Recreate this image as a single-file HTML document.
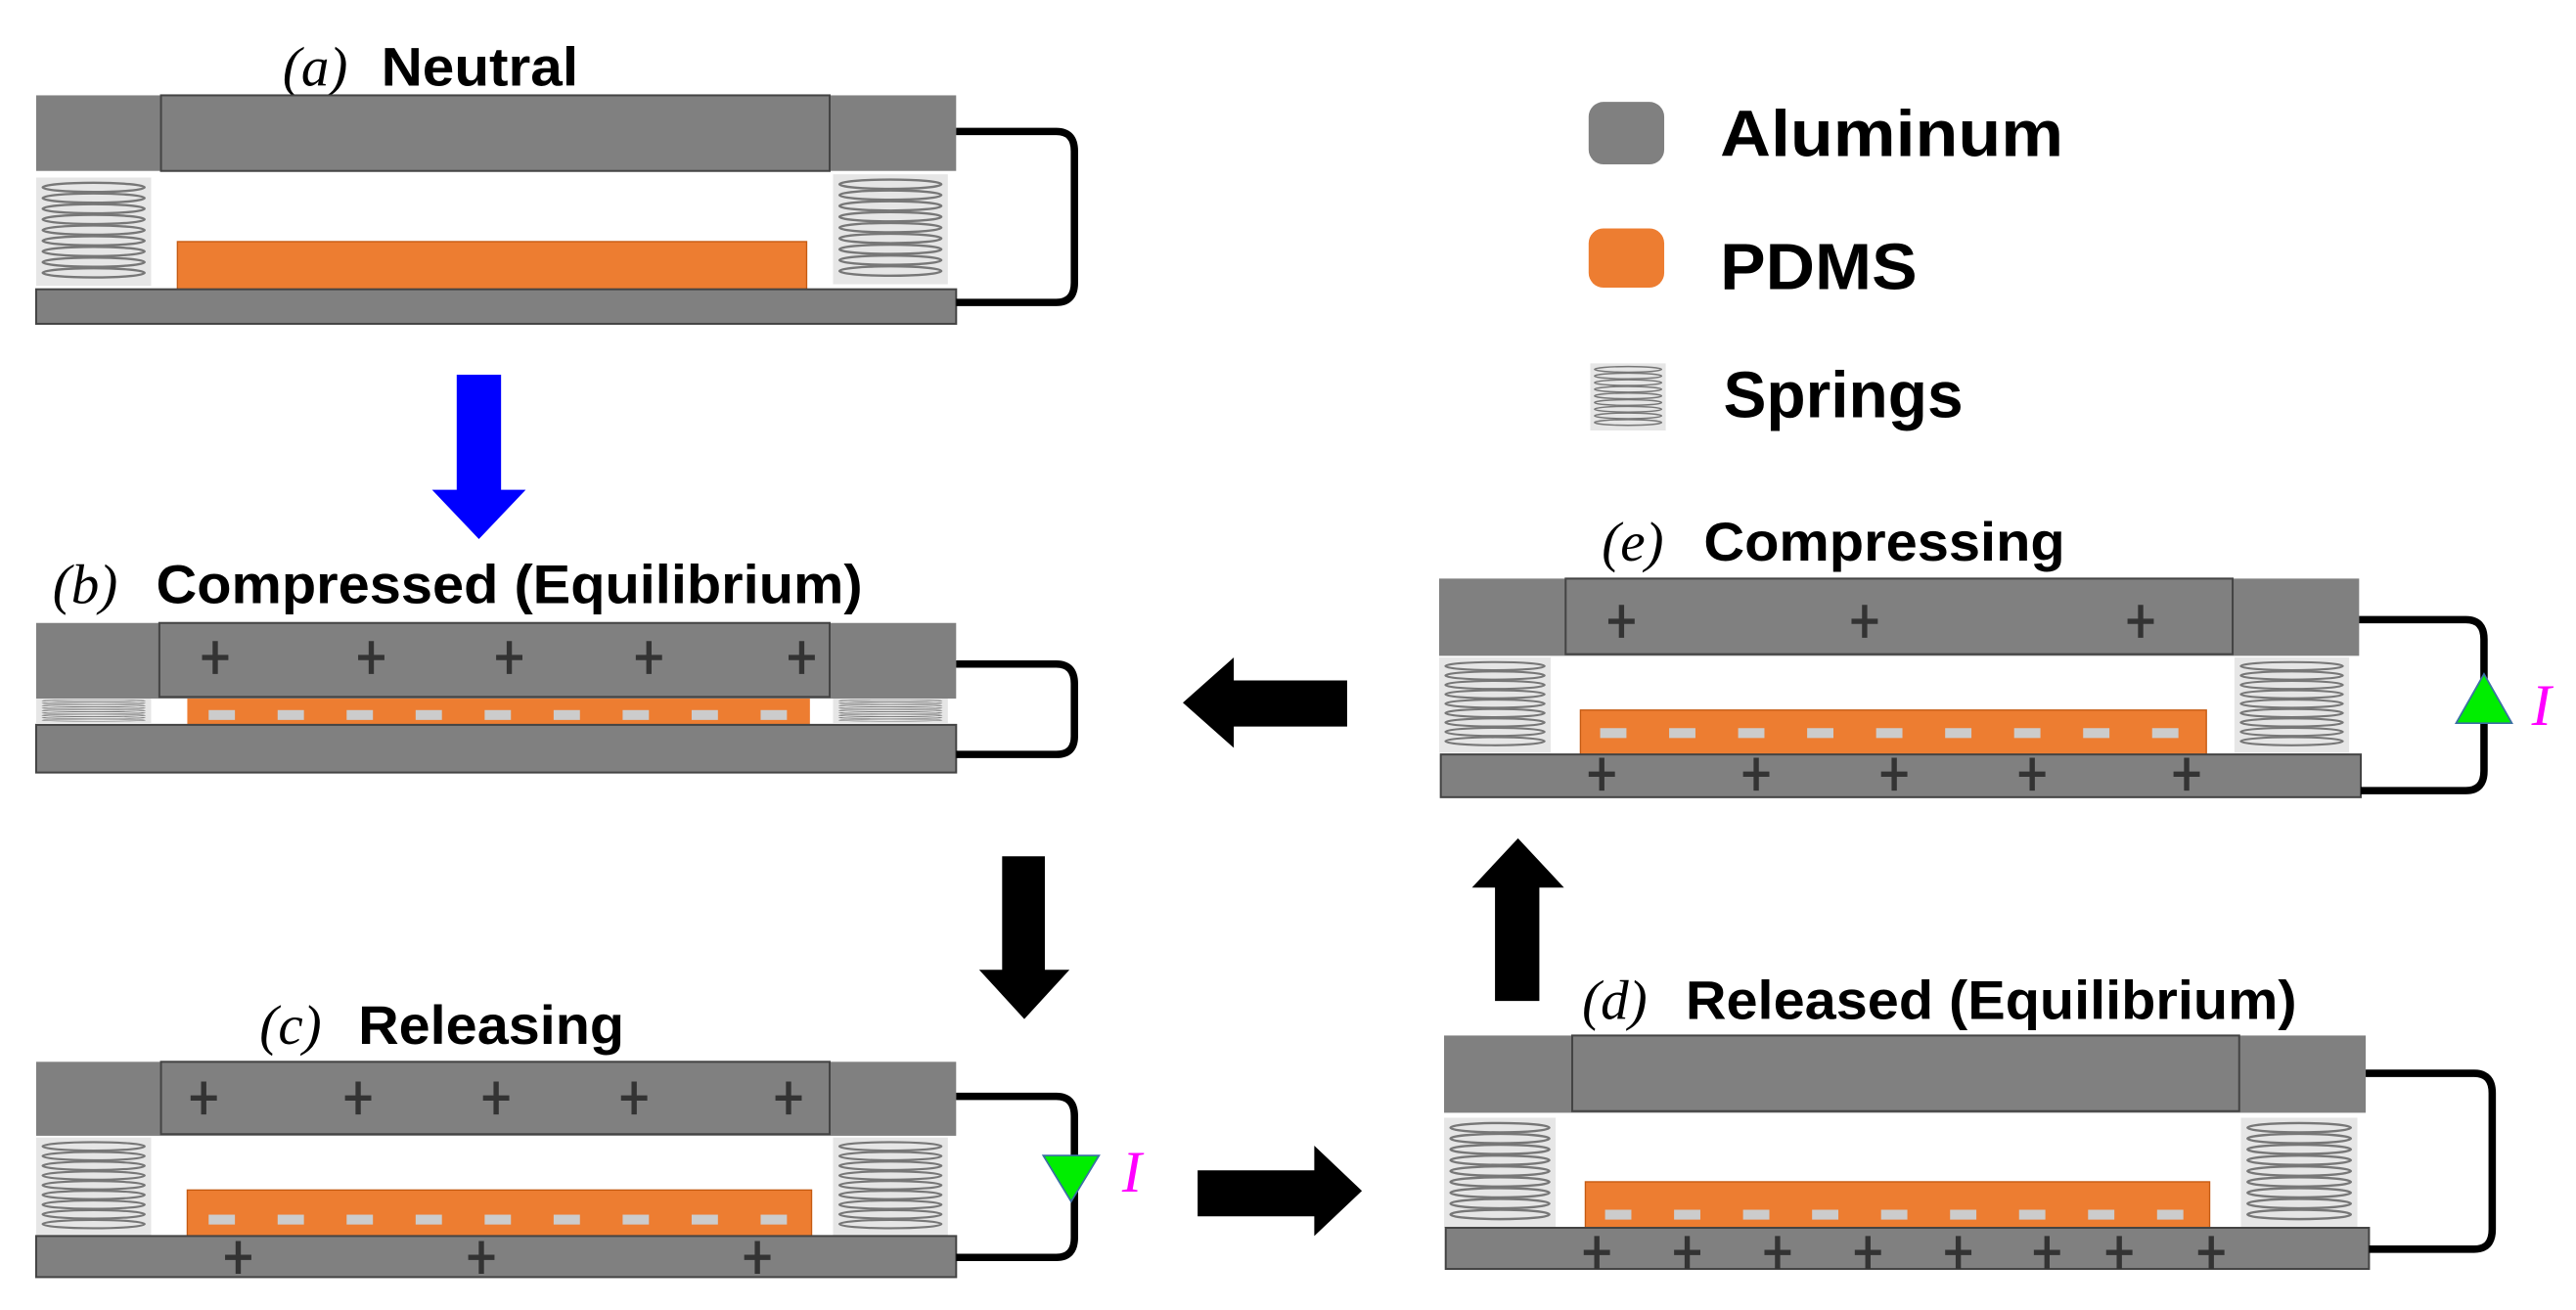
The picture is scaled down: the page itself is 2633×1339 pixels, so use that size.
<!DOCTYPE html>
<html><head><meta charset="utf-8"><style>
html,body{margin:0;padding:0;background:#fff;}
svg{display:block;}
.t{font-family:"Liberation Sans",sans-serif;font-weight:bold;font-size:33px;fill:#000;}
.i{font-family:"Liberation Serif",serif;font-style:italic;font-size:34px;fill:#000;}
.lg{font-family:"Liberation Sans",sans-serif;font-weight:bold;font-size:40px;fill:#000;}
.al{fill:#808080;}
.pl{fill:#808080;stroke:#444;stroke-width:1.2;}
.pd{fill:#ED7D31;stroke:#C55A11;stroke-width:0.8;}
.w{fill:none;stroke:#000;stroke-width:4.5;}
</style></head><body>
<svg width="2633" height="1339" viewBox="0 0 1568 797" preserveAspectRatio="none" xmlns="http://www.w3.org/2000/svg">
<defs>
<symbol id="sp" viewBox="0 0 70 66" preserveAspectRatio="none">
<rect x="0" y="0" width="70" height="66" fill="#e6e6e6"/>
<g fill="none" stroke="#777" stroke-width="1.4">
<ellipse cx="35" cy="6" rx="31" ry="2.8"/><ellipse cx="35" cy="12.5" rx="31" ry="2.8"/>
<ellipse cx="35" cy="19" rx="31" ry="2.8"/><ellipse cx="35" cy="25.5" rx="31" ry="2.8"/>
<ellipse cx="35" cy="32" rx="31" ry="2.8"/><ellipse cx="35" cy="38.5" rx="31" ry="2.8"/>
<ellipse cx="35" cy="45" rx="31" ry="2.8"/><ellipse cx="35" cy="51.5" rx="31" ry="2.8"/>
<ellipse cx="35" cy="58" rx="31" ry="2.8"/>
</g></symbol>
<g id="p"><path d="M-8 0H8M0 -10V10" stroke="#333" stroke-width="3.2"/></g>
<rect id="m" x="-8" y="-3" width="16" height="6" fill="#ccc"/>
</defs>

<!-- Panel a -->
<text x="172" y="52" class="i">(a)</text><text x="232" y="52" class="t" textLength="120" lengthAdjust="spacingAndGlyphs">Neutral</text>
<rect class="al" x="22" y="58" width="560" height="46"/>
<rect class="pl" x="98" y="58" width="407" height="46"/>
<use href="#sp" x="22" y="108" width="70" height="66"/>
<use href="#sp" x="507" y="106" width="70" height="67"/>
<rect class="pd" x="108" y="147" width="383" height="29"/>
<rect class="pl" x="22" y="176" width="560" height="21"/>
<path class="w" d="M582 80H643Q654 80 654 92V172Q654 184 643 184H582"/>

<path d="M278 228H305V298H320L291.5 328L263 298H278Z" fill="#0000FF"/>

<!-- Panel b -->
<text x="32" y="367" class="i">(b)</text><text x="95" y="367" class="t" textLength="430" lengthAdjust="spacingAndGlyphs">Compressed (Equilibrium)</text>
<rect class="al" x="22" y="379" width="560" height="46"/>
<rect class="pl" x="97" y="379" width="408" height="45"/>
<use href="#p" x="131" y="400"/><use href="#p" x="226" y="400"/><use href="#p" x="310" y="400"/><use href="#p" x="395" y="400"/><use href="#p" x="488" y="400"/>
<use href="#sp" x="22" y="425" width="70" height="15"/>
<use href="#sp" x="507" y="425" width="70" height="15"/>
<rect class="pd" x="114" y="425" width="379" height="16" style="stroke:none"/>
<g transform="translate(0,435)"><use href="#m" x="135"/><use href="#m" x="177"/><use href="#m" x="219"/><use href="#m" x="261"/><use href="#m" x="303"/><use href="#m" x="345"/><use href="#m" x="387"/><use href="#m" x="429"/><use href="#m" x="471"/></g>
<rect class="pl" x="22" y="441" width="560" height="29"/>
<path class="w" d="M582 404H643Q654 404 654 416V448Q654 459 643 459H582"/>

<path d="M610 521H636V590H651L623.5 620L596 590H610Z" fill="#000"/>

<!-- Panel c -->
<text x="158" y="635" class="i">(c)</text><text x="218" y="635" class="t" textLength="162" lengthAdjust="spacingAndGlyphs">Releasing</text>
<rect class="al" x="22" y="646" width="560" height="45"/>
<rect class="pl" x="98" y="646" width="407" height="44"/>
<use href="#p" x="124" y="668"/><use href="#p" x="218" y="668"/><use href="#p" x="302" y="668"/><use href="#p" x="386" y="668"/><use href="#p" x="480" y="668"/>
<use href="#sp" x="22" y="692" width="70" height="60"/>
<use href="#sp" x="507" y="692" width="70" height="60"/>
<rect class="pd" x="114" y="724" width="380" height="28"/>
<g transform="translate(0,742)"><use href="#m" x="135"/><use href="#m" x="177"/><use href="#m" x="219"/><use href="#m" x="261"/><use href="#m" x="303"/><use href="#m" x="345"/><use href="#m" x="387"/><use href="#m" x="429"/><use href="#m" x="471"/></g>
<rect class="pl" x="22" y="752" width="560" height="25"/>
<use href="#p" x="145" y="765"/><use href="#p" x="293" y="765"/><use href="#p" x="461" y="765"/>
<path class="w" d="M582 667H643Q654 667 654 679V753Q654 765 643 765H582"/>
<path d="M635 703H669L652 731Z" fill="#00EE00" stroke="#3a6ea5" stroke-width="1"/>
<text x="683" y="725" class="i" style="fill:#FF00FF;font-size:36px">I</text>

<path d="M729 712H800V697L829 724.5L800 752V740H729Z" fill="#000"/>

<!-- Panel d -->
<text x="963" y="620" class="i">(d)</text><text x="1026" y="620" class="t" textLength="372" lengthAdjust="spacingAndGlyphs">Released (Equilibrium)</text>
<rect class="al" x="879" y="630" width="561" height="47"/>
<rect class="pl" x="957" y="630" width="406" height="46"/>
<use href="#sp" x="879" y="680" width="68" height="67"/>
<use href="#sp" x="1364" y="680" width="71" height="67"/>
<rect class="pd" x="965" y="719" width="380" height="28"/>
<g transform="translate(0,739)"><use href="#m" x="985"/><use href="#m" x="1027"/><use href="#m" x="1069"/><use href="#m" x="1111"/><use href="#m" x="1153"/><use href="#m" x="1195"/><use href="#m" x="1237"/><use href="#m" x="1279"/><use href="#m" x="1321"/></g>
<rect class="pl" x="880" y="747" width="562" height="25"/>
<use href="#p" x="972" y="762"/><use href="#p" x="1027" y="762"/><use href="#p" x="1082" y="762"/><use href="#p" x="1137" y="762"/><use href="#p" x="1192" y="762"/><use href="#p" x="1246" y="762"/><use href="#p" x="1290" y="762"/><use href="#p" x="1346" y="762"/>
<path class="w" d="M1440 653H1506Q1517 653 1517 665V748Q1517 760 1506 760H1442"/>

<path d="M910 609V540H896L924 510L952 540H937V609Z" fill="#000"/>

<!-- Panel e -->
<text x="975" y="341" class="i">(e)</text><text x="1037" y="341" class="t" textLength="220" lengthAdjust="spacingAndGlyphs">Compressing</text>
<rect class="al" x="876" y="352" width="560" height="47"/>
<rect class="pl" x="953" y="352" width="406" height="46"/>
<use href="#p" x="987" y="378"/><use href="#p" x="1135" y="378"/><use href="#p" x="1303" y="378"/>
<use href="#sp" x="876" y="400" width="68" height="58"/>
<use href="#sp" x="1360" y="400" width="70" height="58"/>
<rect class="pd" x="962" y="432" width="381" height="27"/>
<g transform="translate(0,446)"><use href="#m" x="982"/><use href="#m" x="1024"/><use href="#m" x="1066"/><use href="#m" x="1108"/><use href="#m" x="1150"/><use href="#m" x="1192"/><use href="#m" x="1234"/><use href="#m" x="1276"/><use href="#m" x="1318"/></g>
<rect class="pl" x="877" y="459" width="560" height="26"/>
<use href="#p" x="975" y="471"/><use href="#p" x="1069" y="471"/><use href="#p" x="1153" y="471"/><use href="#p" x="1237" y="471"/><use href="#p" x="1331" y="471"/>
<path class="w" d="M1436 377H1501Q1512 377 1512 389V469Q1512 481 1501 481H1437"/>
<path d="M1495 440H1529L1512 410Z" fill="#00EE00" stroke="#3a6ea5" stroke-width="1"/>
<text x="1541" y="441" class="i" style="fill:#FF00FF;font-size:36px">I</text>

<path d="M820 414H751V400L720 427.5L751 455V442H820Z" fill="#000"/>

<!-- Legend -->
<rect x="967" y="62" width="46" height="38" rx="9" fill="#808080"/>
<text x="1047" y="95" class="lg" textLength="209" lengthAdjust="spacingAndGlyphs">Aluminum</text>
<rect x="967" y="139" width="46" height="36" rx="9" fill="#ED7D31"/>
<text x="1047" y="176" class="lg" textLength="120" lengthAdjust="spacingAndGlyphs">PDMS</text>
<use href="#sp" x="968" y="221" width="46" height="41"/>
<text x="1049" y="254" class="lg" textLength="146" lengthAdjust="spacingAndGlyphs">Springs</text>
</svg>
</body></html>
